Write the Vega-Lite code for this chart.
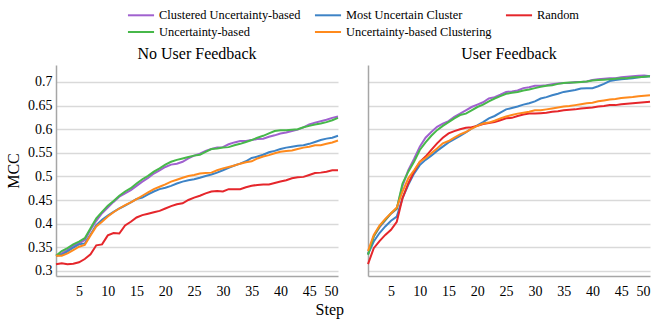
{
"$schema": "https://vega.github.io/schema/vega-lite/v6.json",
"padding": {"left": 5, "top": 5, "right": 5, "bottom": 5},
"config": {
 "font": "Liberation Serif",
 "view": {"stroke": null},
 "style": {"guide-label": {"font": "Liberation Serif", "fill": "#000"}, "guide-title": {"font": "Liberation Serif", "fill": "#000"}, "group-title": {"font": "Liberation Serif"}},
 "axis": {"labelFont": "Liberation Serif", "labelFontSize": 14, "labelColor": "#000", "titleFont": "Liberation Serif", "titleFontSize": 15, "titleFontWeight": "normal", "titleColor": "#000", "domainColor": "#a6a6a6", "domainWidth": 1.5, "gridColor": "#d9d9d9", "gridWidth": 1.5, "ticks": false},
 "title": {"font": "Liberation Serif", "fontSize": 16, "fontWeight": "normal", "color": "#000"},
 "legend": {"labelFont": "Liberation Serif", "labelFontSize": 12.4, "labelColor": "#000"}
},
"datasets": {
 "methods": [
  {"m": "CU", "method": "Clustered Uncertainty-based"},
  {"m": "MUC", "method": "Most Uncertain Cluster"},
  {"m": "R", "method": "Random"},
  {"m": "U", "method": "Uncertainty-based"},
  {"m": "UC", "method": "Uncertainty-based Clustering"}
 ],
 "nofb": [
{"m":"CU","step":1,"mcc":0.332},{"m":"CU","step":2,"mcc":0.337},{"m":"CU","step":3,"mcc":0.344},{"m":"CU","step":4,"mcc":0.353},{"m":"CU","step":5,"mcc":0.358},{"m":"CU","step":6,"mcc":0.365},{"m":"CU","step":7,"mcc":0.387},{"m":"CU","step":8,"mcc":0.406},{"m":"CU","step":9,"mcc":0.422},{"m":"CU","step":10,"mcc":0.434},
{"m":"CU","step":11,"mcc":0.446},{"m":"CU","step":12,"mcc":0.457},{"m":"CU","step":13,"mcc":0.464},{"m":"CU","step":14,"mcc":0.471},{"m":"CU","step":15,"mcc":0.480},{"m":"CU","step":16,"mcc":0.489},{"m":"CU","step":17,"mcc":0.497},{"m":"CU","step":18,"mcc":0.506},{"m":"CU","step":19,"mcc":0.513},{"m":"CU","step":20,"mcc":0.520},
{"m":"CU","step":21,"mcc":0.525},{"m":"CU","step":22,"mcc":0.527},{"m":"CU","step":23,"mcc":0.531},{"m":"CU","step":24,"mcc":0.538},{"m":"CU","step":25,"mcc":0.544},{"m":"CU","step":26,"mcc":0.548},{"m":"CU","step":27,"mcc":0.554},{"m":"CU","step":28,"mcc":0.558},{"m":"CU","step":29,"mcc":0.561},{"m":"CU","step":30,"mcc":0.562},
{"m":"CU","step":31,"mcc":0.568},{"m":"CU","step":32,"mcc":0.572},{"m":"CU","step":33,"mcc":0.575},{"m":"CU","step":34,"mcc":0.575},{"m":"CU","step":35,"mcc":0.577},{"m":"CU","step":36,"mcc":0.579},{"m":"CU","step":37,"mcc":0.580},{"m":"CU","step":38,"mcc":0.584},{"m":"CU","step":39,"mcc":0.587},{"m":"CU","step":40,"mcc":0.591},
{"m":"CU","step":41,"mcc":0.593},{"m":"CU","step":42,"mcc":0.596},{"m":"CU","step":43,"mcc":0.599},{"m":"CU","step":44,"mcc":0.604},{"m":"CU","step":45,"mcc":0.610},{"m":"CU","step":46,"mcc":0.614},{"m":"CU","step":47,"mcc":0.617},{"m":"CU","step":48,"mcc":0.620},{"m":"CU","step":49,"mcc":0.624},{"m":"CU","step":50,"mcc":0.627},
{"m":"MUC","step":1,"mcc":0.332},{"m":"MUC","step":2,"mcc":0.334},{"m":"MUC","step":3,"mcc":0.341},{"m":"MUC","step":4,"mcc":0.349},{"m":"MUC","step":5,"mcc":0.356},{"m":"MUC","step":6,"mcc":0.358},{"m":"MUC","step":7,"mcc":0.377},{"m":"MUC","step":8,"mcc":0.397},{"m":"MUC","step":9,"mcc":0.408},{"m":"MUC","step":10,"mcc":0.417},
{"m":"MUC","step":11,"mcc":0.425},{"m":"MUC","step":12,"mcc":0.432},{"m":"MUC","step":13,"mcc":0.438},{"m":"MUC","step":14,"mcc":0.445},{"m":"MUC","step":15,"mcc":0.452},{"m":"MUC","step":16,"mcc":0.455},{"m":"MUC","step":17,"mcc":0.462},{"m":"MUC","step":18,"mcc":0.468},{"m":"MUC","step":19,"mcc":0.473},{"m":"MUC","step":20,"mcc":0.476},
{"m":"MUC","step":21,"mcc":0.480},{"m":"MUC","step":22,"mcc":0.485},{"m":"MUC","step":23,"mcc":0.489},{"m":"MUC","step":24,"mcc":0.492},{"m":"MUC","step":25,"mcc":0.494},{"m":"MUC","step":26,"mcc":0.497},{"m":"MUC","step":27,"mcc":0.501},{"m":"MUC","step":28,"mcc":0.504},{"m":"MUC","step":29,"mcc":0.508},{"m":"MUC","step":30,"mcc":0.513},
{"m":"MUC","step":31,"mcc":0.518},{"m":"MUC","step":32,"mcc":0.523},{"m":"MUC","step":33,"mcc":0.527},{"m":"MUC","step":34,"mcc":0.532},{"m":"MUC","step":35,"mcc":0.539},{"m":"MUC","step":36,"mcc":0.542},{"m":"MUC","step":37,"mcc":0.546},{"m":"MUC","step":38,"mcc":0.551},{"m":"MUC","step":39,"mcc":0.554},{"m":"MUC","step":40,"mcc":0.558},
{"m":"MUC","step":41,"mcc":0.561},{"m":"MUC","step":42,"mcc":0.563},{"m":"MUC","step":43,"mcc":0.565},{"m":"MUC","step":44,"mcc":0.566},{"m":"MUC","step":45,"mcc":0.569},{"m":"MUC","step":46,"mcc":0.573},{"m":"MUC","step":47,"mcc":0.577},{"m":"MUC","step":48,"mcc":0.580},{"m":"MUC","step":49,"mcc":0.582},{"m":"MUC","step":50,"mcc":0.586},
{"m":"R","step":1,"mcc":0.314},{"m":"R","step":2,"mcc":0.316},{"m":"R","step":3,"mcc":0.314},{"m":"R","step":4,"mcc":0.315},{"m":"R","step":5,"mcc":0.318},{"m":"R","step":6,"mcc":0.325},{"m":"R","step":7,"mcc":0.335},{"m":"R","step":8,"mcc":0.354},{"m":"R","step":9,"mcc":0.356},{"m":"R","step":10,"mcc":0.375},
{"m":"R","step":11,"mcc":0.380},{"m":"R","step":12,"mcc":0.379},{"m":"R","step":13,"mcc":0.396},{"m":"R","step":14,"mcc":0.404},{"m":"R","step":15,"mcc":0.413},{"m":"R","step":16,"mcc":0.418},{"m":"R","step":17,"mcc":0.421},{"m":"R","step":18,"mcc":0.424},{"m":"R","step":19,"mcc":0.427},{"m":"R","step":20,"mcc":0.432},
{"m":"R","step":21,"mcc":0.437},{"m":"R","step":22,"mcc":0.441},{"m":"R","step":23,"mcc":0.443},{"m":"R","step":24,"mcc":0.450},{"m":"R","step":25,"mcc":0.455},{"m":"R","step":26,"mcc":0.459},{"m":"R","step":27,"mcc":0.464},{"m":"R","step":28,"mcc":0.468},{"m":"R","step":29,"mcc":0.469},{"m":"R","step":30,"mcc":0.468},
{"m":"R","step":31,"mcc":0.473},{"m":"R","step":32,"mcc":0.473},{"m":"R","step":33,"mcc":0.473},{"m":"R","step":34,"mcc":0.477},{"m":"R","step":35,"mcc":0.480},{"m":"R","step":36,"mcc":0.482},{"m":"R","step":37,"mcc":0.483},{"m":"R","step":38,"mcc":0.483},{"m":"R","step":39,"mcc":0.486},{"m":"R","step":40,"mcc":0.489},
{"m":"R","step":41,"mcc":0.492},{"m":"R","step":42,"mcc":0.496},{"m":"R","step":43,"mcc":0.498},{"m":"R","step":44,"mcc":0.499},{"m":"R","step":45,"mcc":0.503},{"m":"R","step":46,"mcc":0.507},{"m":"R","step":47,"mcc":0.508},{"m":"R","step":48,"mcc":0.510},{"m":"R","step":49,"mcc":0.513},{"m":"R","step":50,"mcc":0.513},
{"m":"U","step":1,"mcc":0.332},{"m":"U","step":2,"mcc":0.342},{"m":"U","step":3,"mcc":0.348},{"m":"U","step":4,"mcc":0.356},{"m":"U","step":5,"mcc":0.362},{"m":"U","step":6,"mcc":0.369},{"m":"U","step":7,"mcc":0.390},{"m":"U","step":8,"mcc":0.411},{"m":"U","step":9,"mcc":0.425},{"m":"U","step":10,"mcc":0.438},
{"m":"U","step":11,"mcc":0.448},{"m":"U","step":12,"mcc":0.459},{"m":"U","step":13,"mcc":0.468},{"m":"U","step":14,"mcc":0.475},{"m":"U","step":15,"mcc":0.485},{"m":"U","step":16,"mcc":0.494},{"m":"U","step":17,"mcc":0.501},{"m":"U","step":18,"mcc":0.510},{"m":"U","step":19,"mcc":0.517},{"m":"U","step":20,"mcc":0.525},
{"m":"U","step":21,"mcc":0.531},{"m":"U","step":22,"mcc":0.535},{"m":"U","step":23,"mcc":0.538},{"m":"U","step":24,"mcc":0.541},{"m":"U","step":25,"mcc":0.544},{"m":"U","step":26,"mcc":0.546},{"m":"U","step":27,"mcc":0.552},{"m":"U","step":28,"mcc":0.558},{"m":"U","step":29,"mcc":0.559},{"m":"U","step":30,"mcc":0.561},
{"m":"U","step":31,"mcc":0.562},{"m":"U","step":32,"mcc":0.566},{"m":"U","step":33,"mcc":0.569},{"m":"U","step":34,"mcc":0.573},{"m":"U","step":35,"mcc":0.577},{"m":"U","step":36,"mcc":0.582},{"m":"U","step":37,"mcc":0.586},{"m":"U","step":38,"mcc":0.591},{"m":"U","step":39,"mcc":0.596},{"m":"U","step":40,"mcc":0.598},
{"m":"U","step":41,"mcc":0.598},{"m":"U","step":42,"mcc":0.599},{"m":"U","step":43,"mcc":0.600},{"m":"U","step":44,"mcc":0.604},{"m":"U","step":45,"mcc":0.607},{"m":"U","step":46,"mcc":0.610},{"m":"U","step":47,"mcc":0.612},{"m":"U","step":48,"mcc":0.615},{"m":"U","step":49,"mcc":0.619},{"m":"U","step":50,"mcc":0.624},
{"m":"UC","step":1,"mcc":0.332},{"m":"UC","step":2,"mcc":0.332},{"m":"UC","step":3,"mcc":0.337},{"m":"UC","step":4,"mcc":0.344},{"m":"UC","step":5,"mcc":0.351},{"m":"UC","step":6,"mcc":0.355},{"m":"UC","step":7,"mcc":0.375},{"m":"UC","step":8,"mcc":0.394},{"m":"UC","step":9,"mcc":0.404},{"m":"UC","step":10,"mcc":0.415},
{"m":"UC","step":11,"mcc":0.424},{"m":"UC","step":12,"mcc":0.432},{"m":"UC","step":13,"mcc":0.439},{"m":"UC","step":14,"mcc":0.445},{"m":"UC","step":15,"mcc":0.452},{"m":"UC","step":16,"mcc":0.459},{"m":"UC","step":17,"mcc":0.466},{"m":"UC","step":18,"mcc":0.473},{"m":"UC","step":19,"mcc":0.478},{"m":"UC","step":20,"mcc":0.483},
{"m":"UC","step":21,"mcc":0.489},{"m":"UC","step":22,"mcc":0.493},{"m":"UC","step":23,"mcc":0.497},{"m":"UC","step":24,"mcc":0.501},{"m":"UC","step":25,"mcc":0.503},{"m":"UC","step":26,"mcc":0.506},{"m":"UC","step":27,"mcc":0.507},{"m":"UC","step":28,"mcc":0.508},{"m":"UC","step":29,"mcc":0.513},{"m":"UC","step":30,"mcc":0.517},
{"m":"UC","step":31,"mcc":0.520},{"m":"UC","step":32,"mcc":0.523},{"m":"UC","step":33,"mcc":0.527},{"m":"UC","step":34,"mcc":0.530},{"m":"UC","step":35,"mcc":0.532},{"m":"UC","step":36,"mcc":0.538},{"m":"UC","step":37,"mcc":0.542},{"m":"UC","step":38,"mcc":0.545},{"m":"UC","step":39,"mcc":0.549},{"m":"UC","step":40,"mcc":0.552},
{"m":"UC","step":41,"mcc":0.554},{"m":"UC","step":42,"mcc":0.555},{"m":"UC","step":43,"mcc":0.558},{"m":"UC","step":44,"mcc":0.561},{"m":"UC","step":45,"mcc":0.563},{"m":"UC","step":46,"mcc":0.566},{"m":"UC","step":47,"mcc":0.566},{"m":"UC","step":48,"mcc":0.569},{"m":"UC","step":49,"mcc":0.572},{"m":"UC","step":50,"mcc":0.576}
 ],
 "fb": [
{"m":"CU","step":1,"mcc":0.335},{"m":"CU","step":2,"mcc":0.373},{"m":"CU","step":3,"mcc":0.392},{"m":"CU","step":4,"mcc":0.407},{"m":"CU","step":5,"mcc":0.421},{"m":"CU","step":6,"mcc":0.431},{"m":"CU","step":7,"mcc":0.480},{"m":"CU","step":8,"mcc":0.513},{"m":"CU","step":9,"mcc":0.537},{"m":"CU","step":10,"mcc":0.563},
{"m":"CU","step":11,"mcc":0.582},{"m":"CU","step":12,"mcc":0.594},{"m":"CU","step":13,"mcc":0.605},{"m":"CU","step":14,"mcc":0.612},{"m":"CU","step":15,"mcc":0.617},{"m":"CU","step":16,"mcc":0.626},{"m":"CU","step":17,"mcc":0.633},{"m":"CU","step":18,"mcc":0.640},{"m":"CU","step":19,"mcc":0.647},{"m":"CU","step":20,"mcc":0.652},
{"m":"CU","step":21,"mcc":0.657},{"m":"CU","step":22,"mcc":0.665},{"m":"CU","step":23,"mcc":0.668},{"m":"CU","step":24,"mcc":0.673},{"m":"CU","step":25,"mcc":0.679},{"m":"CU","step":26,"mcc":0.680},{"m":"CU","step":27,"mcc":0.682},{"m":"CU","step":28,"mcc":0.687},{"m":"CU","step":29,"mcc":0.689},{"m":"CU","step":30,"mcc":0.692},
{"m":"CU","step":31,"mcc":0.692},{"m":"CU","step":32,"mcc":0.693},{"m":"CU","step":33,"mcc":0.695},{"m":"CU","step":34,"mcc":0.697},{"m":"CU","step":35,"mcc":0.698},{"m":"CU","step":36,"mcc":0.698},{"m":"CU","step":37,"mcc":0.700},{"m":"CU","step":38,"mcc":0.700},{"m":"CU","step":39,"mcc":0.701},{"m":"CU","step":40,"mcc":0.704},
{"m":"CU","step":41,"mcc":0.706},{"m":"CU","step":42,"mcc":0.707},{"m":"CU","step":43,"mcc":0.708},{"m":"CU","step":44,"mcc":0.708},{"m":"CU","step":45,"mcc":0.710},{"m":"CU","step":46,"mcc":0.711},{"m":"CU","step":47,"mcc":0.712},{"m":"CU","step":48,"mcc":0.713},{"m":"CU","step":49,"mcc":0.714},{"m":"CU","step":50,"mcc":0.712},
{"m":"MUC","step":1,"mcc":0.335},{"m":"MUC","step":2,"mcc":0.362},{"m":"MUC","step":3,"mcc":0.380},{"m":"MUC","step":4,"mcc":0.394},{"m":"MUC","step":5,"mcc":0.406},{"m":"MUC","step":6,"mcc":0.415},{"m":"MUC","step":7,"mcc":0.454},{"m":"MUC","step":8,"mcc":0.482},{"m":"MUC","step":9,"mcc":0.506},{"m":"MUC","step":10,"mcc":0.524},
{"m":"MUC","step":11,"mcc":0.535},{"m":"MUC","step":12,"mcc":0.544},{"m":"MUC","step":13,"mcc":0.554},{"m":"MUC","step":14,"mcc":0.563},{"m":"MUC","step":15,"mcc":0.572},{"m":"MUC","step":16,"mcc":0.579},{"m":"MUC","step":17,"mcc":0.586},{"m":"MUC","step":18,"mcc":0.593},{"m":"MUC","step":19,"mcc":0.601},{"m":"MUC","step":20,"mcc":0.608},
{"m":"MUC","step":21,"mcc":0.615},{"m":"MUC","step":22,"mcc":0.623},{"m":"MUC","step":23,"mcc":0.628},{"m":"MUC","step":24,"mcc":0.635},{"m":"MUC","step":25,"mcc":0.642},{"m":"MUC","step":26,"mcc":0.645},{"m":"MUC","step":27,"mcc":0.648},{"m":"MUC","step":28,"mcc":0.652},{"m":"MUC","step":29,"mcc":0.655},{"m":"MUC","step":30,"mcc":0.659},
{"m":"MUC","step":31,"mcc":0.665},{"m":"MUC","step":32,"mcc":0.668},{"m":"MUC","step":33,"mcc":0.672},{"m":"MUC","step":34,"mcc":0.675},{"m":"MUC","step":35,"mcc":0.679},{"m":"MUC","step":36,"mcc":0.681},{"m":"MUC","step":37,"mcc":0.683},{"m":"MUC","step":38,"mcc":0.686},{"m":"MUC","step":39,"mcc":0.687},{"m":"MUC","step":40,"mcc":0.687},
{"m":"MUC","step":41,"mcc":0.691},{"m":"MUC","step":42,"mcc":0.696},{"m":"MUC","step":43,"mcc":0.702},{"m":"MUC","step":44,"mcc":0.704},{"m":"MUC","step":45,"mcc":0.706},{"m":"MUC","step":46,"mcc":0.707},{"m":"MUC","step":47,"mcc":0.708},{"m":"MUC","step":48,"mcc":0.710},{"m":"MUC","step":49,"mcc":0.711},{"m":"MUC","step":50,"mcc":0.712},
{"m":"R","step":1,"mcc":0.314},{"m":"R","step":2,"mcc":0.348},{"m":"R","step":3,"mcc":0.363},{"m":"R","step":4,"mcc":0.376},{"m":"R","step":5,"mcc":0.387},{"m":"R","step":6,"mcc":0.404},{"m":"R","step":7,"mcc":0.454},{"m":"R","step":8,"mcc":0.485},{"m":"R","step":9,"mcc":0.510},{"m":"R","step":10,"mcc":0.531},
{"m":"R","step":11,"mcc":0.542},{"m":"R","step":12,"mcc":0.556},{"m":"R","step":13,"mcc":0.570},{"m":"R","step":14,"mcc":0.582},{"m":"R","step":15,"mcc":0.591},{"m":"R","step":16,"mcc":0.596},{"m":"R","step":17,"mcc":0.600},{"m":"R","step":18,"mcc":0.603},{"m":"R","step":19,"mcc":0.604},{"m":"R","step":20,"mcc":0.607},
{"m":"R","step":21,"mcc":0.611},{"m":"R","step":22,"mcc":0.613},{"m":"R","step":23,"mcc":0.615},{"m":"R","step":24,"mcc":0.619},{"m":"R","step":25,"mcc":0.623},{"m":"R","step":26,"mcc":0.624},{"m":"R","step":27,"mcc":0.628},{"m":"R","step":28,"mcc":0.631},{"m":"R","step":29,"mcc":0.633},{"m":"R","step":30,"mcc":0.633},
{"m":"R","step":31,"mcc":0.634},{"m":"R","step":32,"mcc":0.635},{"m":"R","step":33,"mcc":0.637},{"m":"R","step":34,"mcc":0.638},{"m":"R","step":35,"mcc":0.640},{"m":"R","step":36,"mcc":0.641},{"m":"R","step":37,"mcc":0.642},{"m":"R","step":38,"mcc":0.644},{"m":"R","step":39,"mcc":0.645},{"m":"R","step":40,"mcc":0.646},
{"m":"R","step":41,"mcc":0.648},{"m":"R","step":42,"mcc":0.649},{"m":"R","step":43,"mcc":0.651},{"m":"R","step":44,"mcc":0.651},{"m":"R","step":45,"mcc":0.653},{"m":"R","step":46,"mcc":0.654},{"m":"R","step":47,"mcc":0.655},{"m":"R","step":48,"mcc":0.656},{"m":"R","step":49,"mcc":0.657},{"m":"R","step":50,"mcc":0.658},
{"m":"U","step":1,"mcc":0.334},{"m":"U","step":2,"mcc":0.373},{"m":"U","step":3,"mcc":0.394},{"m":"U","step":4,"mcc":0.408},{"m":"U","step":5,"mcc":0.422},{"m":"U","step":6,"mcc":0.432},{"m":"U","step":7,"mcc":0.485},{"m":"U","step":8,"mcc":0.510},{"m":"U","step":9,"mcc":0.531},{"m":"U","step":10,"mcc":0.556},
{"m":"U","step":11,"mcc":0.572},{"m":"U","step":12,"mcc":0.586},{"m":"U","step":13,"mcc":0.598},{"m":"U","step":14,"mcc":0.607},{"m":"U","step":15,"mcc":0.615},{"m":"U","step":16,"mcc":0.623},{"m":"U","step":17,"mcc":0.630},{"m":"U","step":18,"mcc":0.633},{"m":"U","step":19,"mcc":0.640},{"m":"U","step":20,"mcc":0.647},
{"m":"U","step":21,"mcc":0.652},{"m":"U","step":22,"mcc":0.659},{"m":"U","step":23,"mcc":0.665},{"m":"U","step":24,"mcc":0.670},{"m":"U","step":25,"mcc":0.675},{"m":"U","step":26,"mcc":0.677},{"m":"U","step":27,"mcc":0.679},{"m":"U","step":28,"mcc":0.682},{"m":"U","step":29,"mcc":0.684},{"m":"U","step":30,"mcc":0.687},
{"m":"U","step":31,"mcc":0.690},{"m":"U","step":32,"mcc":0.692},{"m":"U","step":33,"mcc":0.693},{"m":"U","step":34,"mcc":0.696},{"m":"U","step":35,"mcc":0.698},{"m":"U","step":36,"mcc":0.699},{"m":"U","step":37,"mcc":0.699},{"m":"U","step":38,"mcc":0.700},{"m":"U","step":39,"mcc":0.701},{"m":"U","step":40,"mcc":0.703},
{"m":"U","step":41,"mcc":0.704},{"m":"U","step":42,"mcc":0.705},{"m":"U","step":43,"mcc":0.706},{"m":"U","step":44,"mcc":0.707},{"m":"U","step":45,"mcc":0.708},{"m":"U","step":46,"mcc":0.708},{"m":"U","step":47,"mcc":0.710},{"m":"U","step":48,"mcc":0.710},{"m":"U","step":49,"mcc":0.711},{"m":"U","step":50,"mcc":0.712},
{"m":"UC","step":1,"mcc":0.342},{"m":"UC","step":2,"mcc":0.376},{"m":"UC","step":3,"mcc":0.396},{"m":"UC","step":4,"mcc":0.410},{"m":"UC","step":5,"mcc":0.422},{"m":"UC","step":6,"mcc":0.434},{"m":"UC","step":7,"mcc":0.468},{"m":"UC","step":8,"mcc":0.496},{"m":"UC","step":9,"mcc":0.513},{"m":"UC","step":10,"mcc":0.531},
{"m":"UC","step":11,"mcc":0.539},{"m":"UC","step":12,"mcc":0.549},{"m":"UC","step":13,"mcc":0.559},{"m":"UC","step":14,"mcc":0.570},{"m":"UC","step":15,"mcc":0.575},{"m":"UC","step":16,"mcc":0.582},{"m":"UC","step":17,"mcc":0.589},{"m":"UC","step":18,"mcc":0.594},{"m":"UC","step":19,"mcc":0.601},{"m":"UC","step":20,"mcc":0.607},
{"m":"UC","step":21,"mcc":0.612},{"m":"UC","step":22,"mcc":0.614},{"m":"UC","step":23,"mcc":0.618},{"m":"UC","step":24,"mcc":0.623},{"m":"UC","step":25,"mcc":0.627},{"m":"UC","step":26,"mcc":0.630},{"m":"UC","step":27,"mcc":0.633},{"m":"UC","step":28,"mcc":0.635},{"m":"UC","step":29,"mcc":0.637},{"m":"UC","step":30,"mcc":0.640},
{"m":"UC","step":31,"mcc":0.640},{"m":"UC","step":32,"mcc":0.642},{"m":"UC","step":33,"mcc":0.644},{"m":"UC","step":34,"mcc":0.646},{"m":"UC","step":35,"mcc":0.648},{"m":"UC","step":36,"mcc":0.649},{"m":"UC","step":37,"mcc":0.651},{"m":"UC","step":38,"mcc":0.653},{"m":"UC","step":39,"mcc":0.655},{"m":"UC","step":40,"mcc":0.656},
{"m":"UC","step":41,"mcc":0.659},{"m":"UC","step":42,"mcc":0.661},{"m":"UC","step":43,"mcc":0.663},{"m":"UC","step":44,"mcc":0.664},{"m":"UC","step":45,"mcc":0.666},{"m":"UC","step":46,"mcc":0.667},{"m":"UC","step":47,"mcc":0.668},{"m":"UC","step":48,"mcc":0.670},{"m":"UC","step":49,"mcc":0.671},{"m":"UC","step":50,"mcc":0.672}
 ]
},
"title": {"text": "Step", "orient": "bottom", "anchor": "middle", "fontSize": 16, "offset": 4},
"spacing": 22,
"hconcat": [
 {
  "data": {"name": "nofb"},
  "transform": [{"lookup": "m", "from": {"data": {"name": "methods"}, "key": "m", "fields": ["method"]}}],
  "title": {"text": "No User Feedback", "offset": 3},
  "width": 282,
  "height": 211,
  "mark": {"type": "line", "strokeWidth": 2},
  "encoding": {
   "x": {"field": "step", "type": "quantitative", "scale": {"domain": [1, 50], "nice": false, "zero": false}, "axis": {"values": [5,10,15,20,25,30,35,40,45,50], "grid": false, "title": null, "labelPadding": 8}},
   "y": {"field": "mcc", "type": "quantitative", "scale": {"domain": [0.289, 0.736], "nice": false, "zero": false}, "axis": {"values": [0.3,0.35,0.4,0.45,0.5,0.55,0.6,0.65,0.7], "format": ".2~f", "title": "MCC", "labelPadding": 4, "titlePadding": 6, "titleFontSize": 16}},
   "color": {"field": "method", "type": "nominal",
     "scale": {"domain": ["Clustered Uncertainty-based", "Most Uncertain Cluster", "Random", "Uncertainty-based", "Uncertainty-based Clustering"], "range": ["#a061cf", "#3d83c6", "#e5262b", "#47b84a", "#ff8a1c"]},
     "legend": {"orient": "none", "legendX": 75, "legendY": -60, "columns": 3, "direction": "horizontal", "title": null, "symbolType": "M-1.45,0H1.45", "symbolSize": 324, "symbolStrokeWidth": 2, "columnPadding": 9, "rowPadding": 0, "labelOffset": 8}}
  }
 },
 {
  "data": {"name": "fb"},
  "transform": [{"lookup": "m", "from": {"data": {"name": "methods"}, "key": "m", "fields": ["method"]}}],
  "title": {"text": "User Feedback", "offset": 3},
  "width": 282,
  "height": 211,
  "mark": {"type": "line", "strokeWidth": 2},
  "encoding": {
   "x": {"field": "step", "type": "quantitative", "scale": {"domain": [1, 50], "nice": false, "zero": false}, "axis": {"values": [5,10,15,20,25,30,35,40,45,50], "grid": false, "title": null, "labelPadding": 8}},
   "y": {"field": "mcc", "type": "quantitative", "scale": {"domain": [0.289, 0.736], "nice": false, "zero": false}, "axis": {"values": [0.3,0.35,0.4,0.45,0.5,0.55,0.6,0.65,0.7], "labels": false, "title": null}},
   "color": {"field": "method", "type": "nominal"}
  }
 }
]
}
